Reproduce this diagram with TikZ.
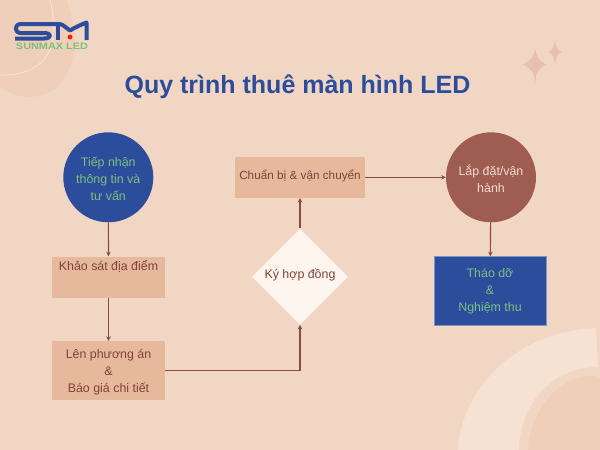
\documentclass[tikz,border=0pt]{standalone}
\usepackage{fontspec}
\usepackage{graphicx}
\setmainfont{Liberation Sans}
\definecolor{bgc}{HTML}{F2D6C4}
\definecolor{blobc}{HTML}{EFCFBA}
\definecolor{bandc}{HTML}{F5E2D2}
\definecolor{starc}{HTML}{E9BFAE}
\definecolor{navy}{HTML}{2C4D9B}
\definecolor{leaf}{HTML}{7CC07C}
\definecolor{tan}{HTML}{E6B89C}
\definecolor{brick}{HTML}{9E5C52}
\definecolor{ink}{HTML}{7F433B}
\definecolor{linec}{HTML}{8A4A42}
\definecolor{cream}{HTML}{FDF5EE}
\definecolor{pinkt}{HTML}{F6DCD0}
\usetikzlibrary{arrows.meta,shapes.geometric,positioning}
\tikzset{
  x=1pt,y=-1pt,
  txt/.style={align=center,font=\fontsize{12.4}{17}\selectfont,inner sep=0pt},
  round/.style={circle,minimum size=90pt,inner sep=0pt,anchor=center},
  bluecirc/.style={round,fill=navy},
  redcirc/.style={round,fill=brick},
  tanbox/.style={fill=tan,inner sep=0pt},
  bluebox/.style={fill=navy,draw=navy!60!white,line width=0.4pt,inner sep=0pt},
  flow/.style={draw=linec,line width=1.15pt,-{Stealth[length=4.5pt,width=4.5pt]}},
  logoline/.style={navy,line width=4pt,line join=round}
}
\begin{document}
\begin{tikzpicture}
\useasboundingbox (0,0) rectangle (600,450);
\fill[bgc] (0,0) rectangle (600,450);
% decor top-left
\fill[blobc] (0,0) -- (67,0) .. controls (72,15) and (76,35) .. (74,50) .. controls (72,70) and (62,85) .. (50,92) .. controls (35,100) and (15,98) .. (0,87) -- cycle;
\draw[bandc,line width=0.9pt] (50,0) .. controls (54,15) and (55,35) .. (50,50) .. controls (45,62) and (30,76) .. (0,75);
% decor bottom-right
\fill[bandc] (458,450) .. controls (460,395) and (510,332) .. (596,328) -- (598,367) .. controls (555,367) and (520,400) .. (519,450) -- cycle;
\fill[blobc] (528,450) .. controls (530,410) and (560,376) .. (590,376) .. controls (594,376) and (597,376) .. (600,378) -- (600,450) -- cycle;
% sparkles
\fill[starc] (535,47) .. controls (536,57) and (538,60) .. (546,64.5) .. controls (538,69) and (536,72) .. (535,84) .. controls (534,72) and (532,69) .. (523,64.5) .. controls (532,60) and (534,57) .. (535,47) -- cycle;
\fill[starc] (555,40) .. controls (556,47) and (557,50) .. (562,52) .. controls (557,54) and (556,57) .. (555,65) .. controls (554,57) and (553,54) .. (548,52) .. controls (553,50) and (554,47) .. (555,40) -- cycle;
% logo
\draw[logoline] (53,24) -- (21,24) .. controls (14,24) and (14,33) .. (21,33) -- (44,33) .. controls (52,33) and (52,38.5) .. (44,38.5) -- (15,38.5);
\draw[logoline] (53,24) -- (59,24) .. controls (63,24) and (66,28) .. (70,30.5) .. controls (74,28) and (80,25) .. (86.5,22.5) -- (86.5,40);
\draw[logoline] (58,24) -- (58,40);
\fill[red!75!orange] (70,37) circle (2.5);
\node[inner sep=0pt,text=leaf] (logotext) at (52,46.3) {\resizebox{72pt}{6.5pt}{\bfseries SUNMAX LED}};
% title
\node[inner sep=0pt,text=navy,font=\bfseries\fontsize{25}{30}\selectfont] (title) at (297.5,87) {Quy trình thuê màn hình LED};
% nodes
\node[bluecirc] (a) at (108.3,177.3) {};
\node[txt,text=leaf] (atext) at (108.3,178.3) {Tiếp nhận\\thông tin và\\tư vấn};
\node[tanbox,minimum width=113pt,minimum height=41pt] (b) at (108.5,277) {};
\node[txt,text=ink] (btext) at (108.5,266) {Khảo sát địa điểm};
\node[tanbox,minimum width=113pt,minimum height=59pt] (c) at (108.5,370.5) {};
\node[txt,text=ink] (ctext) at (108.5,372) {Lên phương án\\\&\\Báo giá chi tiết};
\node[diamond,aspect=1,fill=cream,inner sep=0pt,minimum width=96pt,minimum height=96pt] (d) at (300,276.7) {};
\node[txt,text=ink] (dtext) at (300,275.5) {Ký hợp đồng};
\node[tanbox,minimum width=130pt,minimum height=41pt] (e) at (300,177.3) {};
\node[txt,text=ink,font=\fontsize{11.75}{17}\selectfont] (etext) at (300,176) {Chuẩn bị \& vận chuyển};
\node[redcirc] (f) at (491,177.3) {};
\node[txt,text=pinkt] (ftext) at (491,179) {Lắp đặt/vận\\hành};
\node[bluebox,minimum width=112.6pt,minimum height=68.7pt] (g) at (490,290.7) {};
\node[txt,text=leaf] (gtext) at (490,291.5) {Tháo dỡ\\\&\\Nghiệm thu};
% connectors
\draw[flow] (a) -- (b);
\draw[flow] (b) -- (c);
\draw[flow] (c.east) -- (300,370.5) -- (d.south);
\draw[flow] (d) -- (e);
\draw[flow] (e) -- (f);
\draw[flow] (f) -- (g);
\end{tikzpicture}
\end{document}
